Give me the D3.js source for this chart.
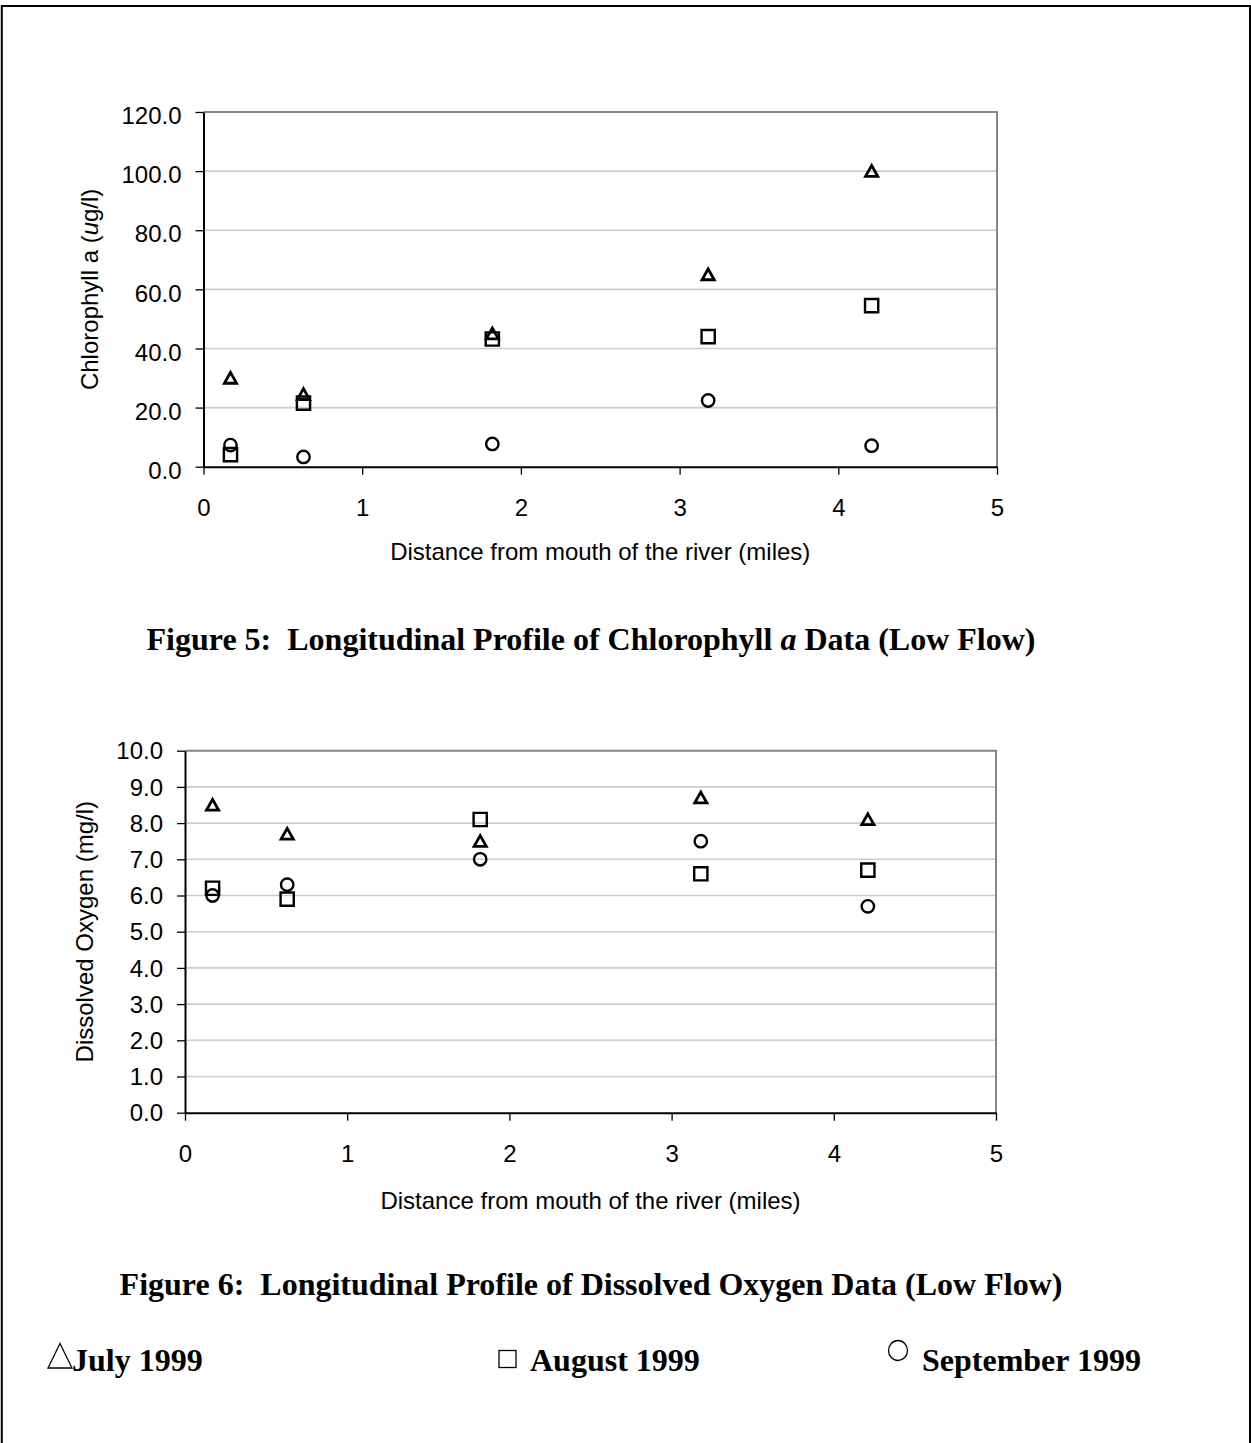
<!DOCTYPE html>
<html>
<head>
<meta charset="utf-8">
<script src="https://cdn.jsdelivr.net/npm/d3@7"></script>
<style>
  html, body { margin: 0; padding: 0; background: #fff; }
  svg { display: block; }
  .tick-label { font-family: "Liberation Sans", Arial, sans-serif; font-size: 24px; fill: #000; }
  .axis-title { font-family: "Liberation Sans", Arial, sans-serif; font-size: 24px; fill: #000; }
  .caption { font-family: "Liberation Serif", "Times New Roman", serif; font-weight: bold; font-size: 32px; fill: #000; white-space: pre; }
  .legend-text { font-family: "Liberation Serif", "Times New Roman", serif; font-weight: bold; font-size: 32px; fill: #000; }
</style>
</head>
<body>
<svg id="page" width="1251" height="1443"></svg>
<script>
// Sampling stations: distance from the river mouth (miles)
const distance = [0.17, 0.63, 1.82, 3.18, 4.21];

// Chlorophyll a (ug/l), low flow
const chlJuly = [30.0, 24.5, 45.0, 65.0, 100.0];
const chlAugust = [4.1, 21.5, 43.2, 44.0, 54.5];
const chlSeptember = [7.3, 3.3, 7.7, 22.4, 7.1];

// Dissolved oxygen (mg/l), low flow
const doJuly = [8.5, 7.7, 7.5, 8.7, 8.1];
const doAugust = [6.2, 5.9, 8.1, 6.6, 6.7];
const doSeptember = [6.0, 6.3, 7.0, 7.5, 5.7];

// Axis ticks
const xTicks = [0, 1, 2, 3, 4, 5];
const chlTicks = [0, 20, 40, 60, 80, 100, 120];
const doTicks = [0, 1, 2, 3, 4, 5, 6, 7, 8, 9, 10];

// Series labels
const seriesNames = ["July 1999", "August 1999", "September 1999"];

const svg = d3.select("#page");

// Page frame
svg.append("path")
  .attr("d", "M1.8,1443 V6 H1250 V1443")
  .attr("fill", "none")
  .attr("stroke", "#000")
  .attr("stroke-width", 2);

// Marker shapes, each centred on its bounding box
function markerPath(kind) {
  if (kind === "triangle") return "M0,-5.6 L6.1,5.2 L-6.1,5.2 Z";
  if (kind === "square") return "M-6.6,-6.6 H6.6 V6.6 H-6.6 Z";
  return null;
}

function drawChart(opts) {
  const { left, right, top, bottom, yMax, yTicks, yFmt, series, yTitle, xTitleOffset, yLabelShift } = opts;
  const g = svg.append("g");
  const x = d3.scaleLinear().domain([0, 5]).range([left, right]);
  const y = d3.scaleLinear().domain([0, yMax]).range([bottom, top]);

  // Horizontal gridlines
  g.append("g").selectAll("line")
    .data(yTicks.filter(t => t > 0 && t < yMax))
    .join("line")
    .attr("x1", left).attr("x2", right)
    .attr("y1", d => y(d)).attr("y2", d => y(d))
    .attr("stroke", "#cccccc").attr("stroke-width", 1.6);

  // Plot-area frame (top and right in grey)
  g.append("path")
    .attr("d", `M${left},${top} H${right} V${bottom}`)
    .attr("fill", "none").attr("stroke", "#868686").attr("stroke-width", 2);

  // Y axis
  const yAxis = g.append("g")
    .attr("transform", `translate(${left},0)`)
    .call(d3.axisLeft(y).tickValues(yTicks).tickFormat(yFmt).tickSize(8).tickSizeOuter(0).tickPadding(14));
  yAxis.select(".domain").attr("stroke", "#000").attr("stroke-width", 2);
  yAxis.selectAll(".tick line").attr("stroke", "#000").attr("stroke-width", 1.3);
  yAxis.selectAll(".tick text").attr("class", "tick-label").attr("y", yLabelShift);

  // X axis
  const xAxis = g.append("g")
    .attr("transform", `translate(0,${bottom})`)
    .call(d3.axisBottom(x).tickValues(xTicks).tickFormat(d3.format("d")).tickSize(8).tickSizeOuter(0).tickPadding(24));
  xAxis.select(".domain").attr("stroke", "#000").attr("stroke-width", 2);
  xAxis.selectAll(".tick line").attr("stroke", "#000").attr("stroke-width", 1.3);
  xAxis.selectAll(".tick text").attr("class", "tick-label");
  [yAxis, xAxis].forEach(a => a.attr("fill", null).attr("font-size", null).attr("font-family", null));

  // Axis titles
  g.append("text")
    .attr("class", "axis-title")
    .attr("text-anchor", "middle")
    .attr("x", (left + right) / 2)
    .attr("y", bottom + xTitleOffset)
    .text("Distance from mouth of the river (miles)");

  const yt = g.append("text")
    .attr("class", "axis-title")
    .attr("text-anchor", "middle")
    .attr("transform", `translate(${opts.yTitleX},${(top + bottom) / 2}) rotate(-90)`)
    .attr("dy", "0.35em");
  yTitle(yt);

  // Markers
  series.forEach(s => {
    const pts = distance.map((d, i) => ({ d, v: s.values[i] }));
    const mg = g.append("g");
    if (s.kind === "circle") {
      mg.selectAll("circle").data(pts).join("circle")
        .attr("cx", p => x(p.d)).attr("cy", p => y(p.v))
        .attr("r", 6.2)
        .attr("fill", "none").attr("stroke", "#000").attr("stroke-width", 2.4);
    } else {
      mg.selectAll("path").data(pts).join("path")
        .attr("d", markerPath(s.kind))
        .attr("transform", p => `translate(${x(p.d)},${y(p.v)})`)
        .attr("fill", "none").attr("stroke", "#000")
        .attr("stroke-width", s.kind === "triangle" ? 2.8 : 2.4)
        .attr("stroke-linejoin", "miter");
    }
  });
}

// Figure 5: chlorophyll a
drawChart({
  left: 203.5, right: 997, top: 112, bottom: 466.7,
  yMax: 120, yTicks: chlTicks, yFmt: d3.format(".1f"),
  yTitleX: 90, xTitleOffset: 93, yLabelShift: 4,
  series: [
    { values: chlJuly, kind: "triangle" },
    { values: chlAugust, kind: "square" },
    { values: chlSeptember, kind: "circle" }
  ],
  yTitle: t => {
    t.append("tspan").text("Chlorophyll a (");
    t.append("tspan").attr("font-style", "italic").text("u");
    t.append("tspan").text("g/l)");
  }
});

// Figure 6: dissolved oxygen
drawChart({
  left: 185, right: 996, top: 750.7, bottom: 1112.7,
  yMax: 10, yTicks: doTicks, yFmt: d3.format(".1f"),
  yTitleX: 85, xTitleOffset: 96, yLabelShift: 0.5,
  series: [
    { values: doJuly, kind: "triangle" },
    { values: doAugust, kind: "square" },
    { values: doSeptember, kind: "circle" }
  ],
  yTitle: t => t.text("Dissolved Oxygen (mg/l)")
});

// Captions
const cap5 = svg.append("text").attr("class", "caption")
  .attr("text-anchor", "middle").attr("x", 591).attr("y", 650);
cap5.append("tspan").text("Figure 5:  Longitudinal Profile of Chlorophyll ");
cap5.append("tspan").attr("font-style", "italic").text("a");
cap5.append("tspan").text(" Data (Low Flow)");

svg.append("text").attr("class", "caption")
  .attr("text-anchor", "middle").attr("x", 591).attr("y", 1295)
  .text("Figure 6:  Longitudinal Profile of Dissolved Oxygen Data (Low Flow)");

// Legend
const legend = svg.append("g");
const legendItems = [
  { name: seriesNames[0], kind: "triangle", sx: 60, sy: 1356, tx: 72 },
  { name: seriesNames[1], kind: "square", sx: 507.5, sy: 1359, tx: 530 },
  { name: seriesNames[2], kind: "circle", sx: 898, sy: 1350.5, tx: 922 }
];
legendItems.forEach(it => {
  if (it.kind === "triangle") {
    legend.append("path")
      .attr("d", `M${it.sx},${it.sy - 12.5} L${it.sx + 12},${it.sy + 12} L${it.sx - 12},${it.sy + 12} Z`)
      .attr("fill", "none").attr("stroke", "#000").attr("stroke-width", 1.3);
  } else if (it.kind === "square") {
    legend.append("rect")
      .attr("x", it.sx - 8.5).attr("y", it.sy - 8.5).attr("width", 17).attr("height", 17)
      .attr("fill", "none").attr("stroke", "#000").attr("stroke-width", 1.3);
  } else {
    legend.append("ellipse")
      .attr("cx", it.sx).attr("cy", it.sy).attr("rx", 9.5).attr("ry", 10)
      .attr("fill", "none").attr("stroke", "#000").attr("stroke-width", 1.3);
  }
  legend.append("text").attr("class", "legend-text")
    .attr("x", it.tx).attr("y", 1371).text(it.name);
});
</script>
</body>
</html>
